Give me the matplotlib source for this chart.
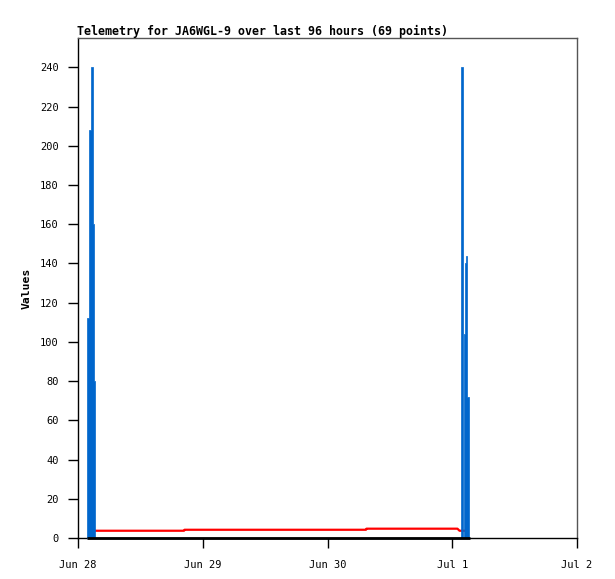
import matplotlib
matplotlib.use("Agg")
import matplotlib.pyplot as plt

# ---- data (hours since Jun 28 00:00) ----
blue_t = [1.73, 2.06, 2.48, 2.80, 3.02, 3.27,
          73.66, 74.05, 74.24, 74.38, 74.52, 74.70, 74.92, 75.15]
blue_v = [112, 208, 240, 160, 80, 0,
          240, 0, 104, 132, 140, 144, 72, 0]

red_t = [3.27, 20.40, 20.50, 55.40, 55.50, 73.00, 73.40, 74.90]
red_v = [3.7, 3.7, 4.2, 4.2, 4.75, 4.75, 3.7, 3.7]

black_t = [1.73, 75.4]
black_v = [0, 0]

day_labels = ["Jun 28", "Jun 29", "Jun 30", "Jul 1", "Jul 2"]
y_ticks = [0, 20, 40, 60, 80, 100, 120, 140, 160, 180, 200, 220, 240]
title = "Telemetry for JA6WGL-9 over last 96 hours (69 points)"

mono = ["DejaVu Sans Mono"]

fig = plt.figure(figsize=(6.15, 5.79), dpi=100)
ax = fig.add_axes([78/615, 41/579, 499/615, 500/579])

ax.plot(red_t, red_v, color="#ff0000", lw=1.6, solid_capstyle="butt", zorder=2)
ax.fill_between(blue_t, blue_v, step="post", facecolor="#0066cc",
                edgecolor="#0066cc", lw=0.5, zorder=3)
ax.plot(black_t, black_v, color="black", lw=2.0, clip_on=False, zorder=4,
        solid_capstyle="butt")

ax.set_xlim(0, 96)
ax.set_ylim(0, 255)
ax.set_xticks([i * 24 for i in range(len(day_labels))])
ax.set_xticklabels(day_labels, family=mono, fontsize=7.5)
ax.set_yticks(y_ticks)
ax.set_yticklabels([str(v) for v in y_ticks], family=mono, fontsize=7.5)
ax.tick_params(axis="both", direction="out", length=7, width=1, color="black")
ax.tick_params(axis="y", pad=7)
ax.tick_params(axis="x", pad=9)

for s in ["left", "bottom"]:
    ax.spines[s].set_color("black")
    ax.spines[s].set_linewidth(1)
for s in ["top", "right"]:
    ax.spines[s].set_color("#555555")
    ax.spines[s].set_linewidth(1)

ax.set_ylabel("Values", family=mono, fontsize=8.2, fontweight="bold")
ax.yaxis.set_label_coords(-0.092, 0.5)

fig.text(77/615, 1 - 31/579, title, family=mono, fontsize=8.4,
         fontweight="bold", ha="left", va="center")

fig.savefig("out.png", dpi=100)
